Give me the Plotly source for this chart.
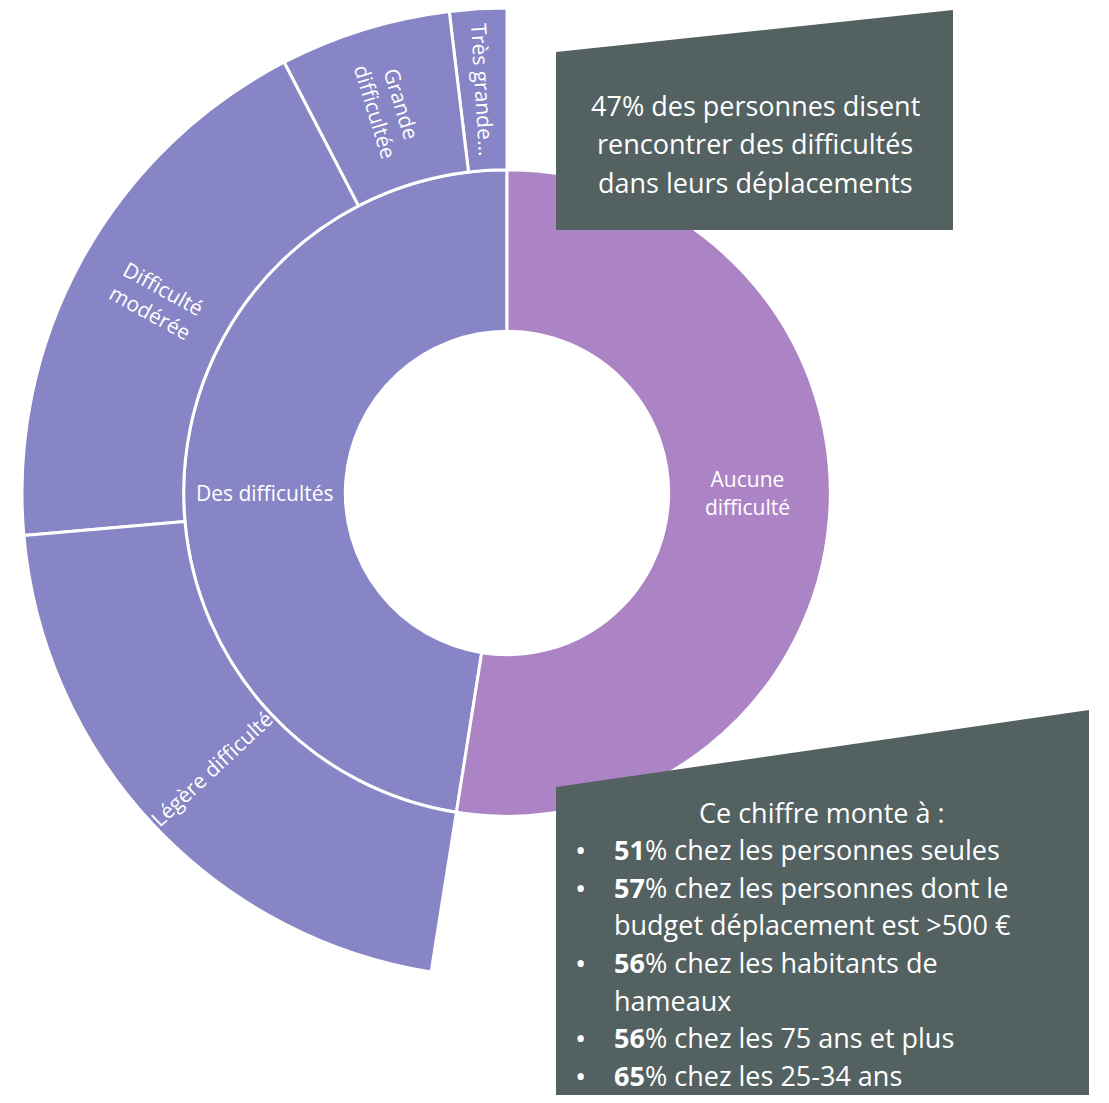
import plotly.graph_objects as go

# ---- data ----
ids = ["root", "Des difficultés", "Très grande difficulté", "Grande difficultée",
       "Difficulté modérée", "Légère difficulté", "Aucune difficulté"]
parents = ["", "root", "Des difficultés", "Des difficultés",
           "Des difficultés", "Des difficultés", "root"]
values = [100, 47.5, 1.9, 5.7, 18.8, 21.1, 52.5]
texts = ["", "Des difficultés", "Très grande…", "Grande<br>difficultée",
         "\u00a0<br>Difficulté<br>modérée<br>\u00a0", "Légère difficulté", "Aucune<br>difficulté"]
colors = ["#ffffff", "#8785C5", "#8785C5", "#8785C5", "#8785C5", "#8785C5", "#AC84C5"]

box1_lines = ["47% des personnes disent", "rencontrer des difficultés", "dans leurs déplacements"]
box2_title = "Ce chiffre monte à :"
box2_items = [
    ("51", "% chez les personnes seules", None),
    ("57", "% chez les personnes dont le", "budget déplacement est >500 €"),
    ("56", "% chez les habitants de", "hameaux"),
    ("56", "% chez les 75 ans et plus", None),
    ("65", "% chez les 25-34 ans", None),
]

OFF = 8              # page body margin
W, H = 1093, 1087    # figure size so that the page fits in the window
FONT = "Open Sans"
BOX = "#536161"

def px(x):
    return (x - OFF) / W

def py(y):
    return 1 - (y - OFF) / H

CX, CY, R = 507, 493, 485

fig = go.Figure(go.Sunburst(
    ids=ids, labels=ids, parents=parents, values=values,
    branchvalues="total", sort=False, rotation=90,
    text=texts, textinfo="text",
    insidetextorientation="radial",
    textfont=dict(family=FONT, size=21, color="white"),
    marker=dict(colors=colors, line=dict(color="white", width=3)),
    leaf=dict(opacity=1),
    domain=dict(x=[px(CX - R), px(CX + R)], y=[py(CY + R), py(CY - R)]),
    hoverinfo="label+value",
))

shapes = []
def poly(pts):
    d = "M " + " L ".join(f"{px(x)},{py(y)}" for x, y in pts) + " Z"
    return dict(type="path", xref="paper", yref="paper", path=d,
                fillcolor=BOX, line=dict(width=0), layer="above")

shapes.append(poly([(556, 52), (953, 10), (953, 230), (556, 230)]))
shapes.append(poly([(556, 787), (1089, 710), (1089, 1103), (556, 1103)]))

ann = []
for i, t in enumerate(box1_lines):
    ann.append(dict(x=px(755), y=py(105 + 38.5 * i), xref="paper", yref="paper",
                    text=t, showarrow=False, xanchor="center", yanchor="middle",
                    font=dict(family=FONT, size=27, color="white")))

TOP, STEP = 812, 37.6
ann.append(dict(x=px(822), y=py(TOP), xref="paper", yref="paper", text=box2_title,
                showarrow=False, xanchor="center", yanchor="middle",
                font=dict(family=FONT, size=27, color="white")))
row = 1
for num, rest, cont in box2_items:
    yy = TOP + STEP * row
    ann.append(dict(x=px(580), y=py(yy), xref="paper", yref="paper", text="•",
                    showarrow=False, xanchor="center", yanchor="middle",
                    font=dict(family=FONT, size=30, color="white")))
    ann.append(dict(x=px(612), y=py(yy), xref="paper", yref="paper",
                    text=f"<b>{num}</b>{rest}", showarrow=False,
                    xanchor="left", yanchor="middle",
                    font=dict(family=FONT, size=27, color="white")))
    row += 1
    if cont:
        yy = TOP + STEP * row
        ann.append(dict(x=px(612), y=py(yy), xref="paper", yref="paper",
                        text=cont, showarrow=False, xanchor="left", yanchor="middle",
                        font=dict(family=FONT, size=27, color="white")))
        row += 1

fig.update_layout(width=W, height=H, margin=dict(l=0, r=0, t=0, b=0),
                  paper_bgcolor="white", plot_bgcolor="white",
                  shapes=shapes, annotations=ann, showlegend=False)

fig.write_html("out.html")
